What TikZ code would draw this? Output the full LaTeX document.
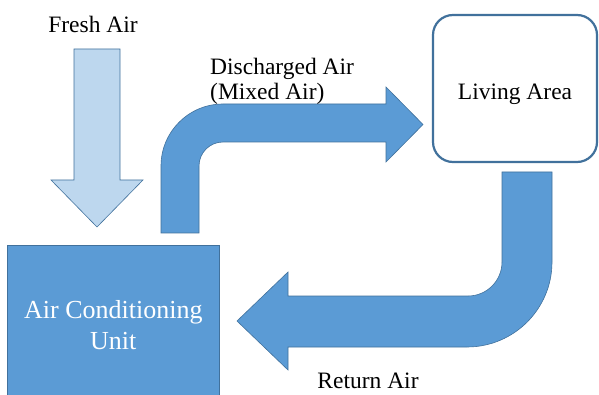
\documentclass[tikz,border=0pt]{standalone}
\usepackage{fontspec}
\setmainfont{Liberation Serif}
\definecolor{mainblue}{HTML}{5B9BD5}
\definecolor{edgeblue}{HTML}{41719C}
\definecolor{lightblue}{HTML}{BDD7EE}
\begin{document}
\begin{tikzpicture}[x=1pt,y=-1pt,
  lbl/.style={inner sep=0pt, font=\fontsize{23.5}{24.5}\selectfont},
  flowarrow/.style={fill=mainblue, draw=edgeblue, line width=0.6pt, line join=miter},
  freshflow/.style={fill=lightblue, draw=edgeblue, line width=0.6pt},
  roomb/.style={draw=edgeblue, fill=white, line width=2.2pt, rounded corners=20pt,
     minimum width=164pt, minimum height=147pt, inner sep=0pt,
     text height=23pt, text depth=0pt,
     font=\fontsize{23.5}{24.5}\selectfont},
  unitb/.style={fill=mainblue, draw=edgeblue, line width=0.6pt,
     minimum width=212pt, minimum height=160pt, inner sep=0pt, align=center,
     text=white, font=\fontsize{26}{31}\selectfont}]
\useasboundingbox (0,0) rectangle (599,395);
\fill[white] (0,0) rectangle (599,395);

% Air conditioning unit
\node[unitb, anchor=north west] (ac) at (7,245) {Air Conditioning\\Unit};
% Living area
\node[roomb] (living) at (515,88.5) {Living Area};

% Fresh air arrow
\draw[freshflow] (74,49) -- (120,49) -- (120,180) -- (143,180) -- (97,227)
  -- (51,180) -- (74,180) -- cycle;
\node[lbl, anchor=base] (fresh) at (93,33) {Fresh Air};

% Discharged air arrow
\draw[flowarrow] (161,233) -- (161,166) arc[start angle=180, end angle=90, radius=62pt]
  -- (386,104) -- (386,87) -- (423,124.5) -- (386,162) -- (386,142)
  -- (223,142) arc[start angle=90, end angle=180, radius=24pt] -- (199,233) -- cycle;
\node[lbl, anchor=north west, align=left] (dis) at (210,58) {Discharged Air\\(Mixed Air)};

% Return air arrow
\draw[flowarrow] (502,172) -- (552,172) -- (552,262)
  arc[start angle=0, end angle=-90, radius=85pt]
  -- (288,347) -- (288,370) -- (237,321) -- (288,272) -- (288,296) -- (468,296)
  arc[start angle=-90, end angle=0, radius=34pt] -- cycle;
\node[lbl, anchor=base] (ret) at (368,388) {Return Air};
\end{tikzpicture}
\end{document}
